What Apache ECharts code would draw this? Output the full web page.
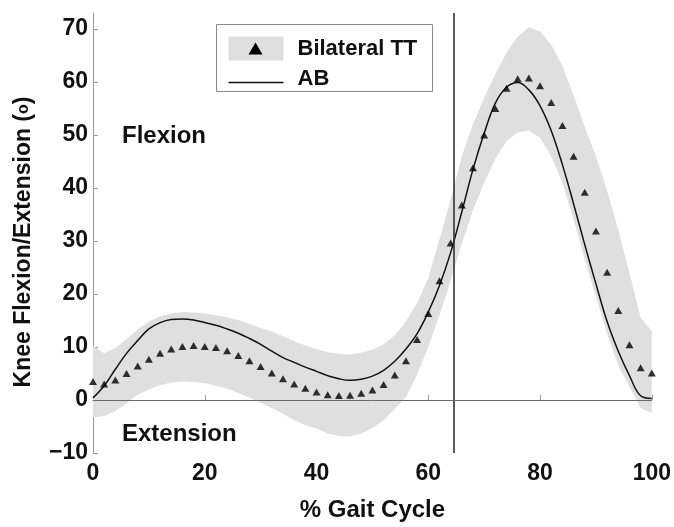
<!DOCTYPE html>
<html>
<head>
<meta charset="utf-8">
<script src="https://cdn.jsdelivr.net/npm/echarts@6/dist/echarts.min.js"></script>
<style>
  html, body { margin: 0; padding: 0; background: #fff; }
  #chart { width: 674px; height: 527px; }
</style>
</head>
<body>
<div id="chart"></div>
<script>
// % gait cycle, sampled every 2 %
const gaitX = [0, 2, 4, 6, 8, 10, 12, 14, 16, 18, 20, 22, 24, 26, 28, 30, 32, 34, 36, 38, 40,
  42, 44, 46, 48, 50, 52, 54, 56, 58, 60, 62, 64, 66, 68, 70, 72, 74, 76, 78, 80,
  82, 84, 86, 88, 90, 92, 94, 96, 98, 100]

// Bilateral TT (triangles)
const ttKnee = [3.5, 3.0, 3.75, 5.0, 6.4, 7.7, 8.8, 9.6, 10.1, 10.3, 10.1, 9.9, 9.3, 8.4, 7.4, 6.3, 5.1, 4.0, 3.0, 2.2, 1.5,
  1.0, 0.85, 0.9, 1.26, 1.9, 2.9, 4.7, 7.4, 11.4, 16.3, 22.5, 29.6, 36.8, 43.8, 50.0, 55.0, 58.8, 60.6, 60.75, 59.3,
  56.1, 51.8, 46.0, 39.2, 31.9, 24.1, 16.9, 10.4, 6.1, 5.1]

// AB mean (solid line)
const abMean = [0.4, 2.7, 5.8, 8.8, 11.2, 13.4, 14.6, 15.2, 15.3, 15.1, 14.6, 14.1, 13.4, 12.6, 11.6, 10.5, 9.2, 8.0, 7.1, 6.2, 5.4,
  4.6, 4.0, 3.7, 3.9, 4.5, 5.6, 7.3, 9.6, 12.5, 16.6, 21.6, 27.8, 35.5, 43.5, 50.3, 56.0, 59.0, 59.9, 58.5, 55.5,
  50.8, 44.4, 37.0, 29.3, 21.9, 14.8, 9.2, 4.6, 0.8, 0.3]

// AB +/- 1 SD band (grey)
const abUpper = [10.2, 8.8, 9.8, 11.5, 13.3, 14.8, 15.8, 16.3, 16.6, 16.5, 16.3, 16.0, 15.6, 15.1, 14.4, 13.6, 12.9, 12.0, 11.1, 10.3, 9.6,
  9.0, 8.7, 8.6, 8.9, 9.5, 10.5, 12.2, 14.8, 18.3, 23.0, 30.3, 37.8, 46.0, 52.0, 57.0, 61.5, 65.5, 68.5, 70.3, 69.5,
  67.0, 63.0, 57.5, 51.5, 46.0, 39.5, 32.0, 24.0, 15.5, 13.0]
const abLower = [-3.3, -3.0, -2.1, -0.6, 1.0, 2.0, 2.8, 3.3, 3.5, 3.4, 3.2, 2.7, 2.1, 1.3, 0.4, -0.5, -1.5, -2.6, -3.8, -4.7, -5.4,
  -6.3, -6.8, -6.9, -6.3, -5.3, -3.8, -1.7, 0.5, 4.8, 10.0, 16.0, 22.5, 29.5, 35.8, 41.0, 45.5, 48.8, 50.5, 50.8, 49.5,
  46.0, 41.0, 34.0, 26.5, 19.5, 12.5, 6.5, 2.5, -1.5, -2.5]

const toeOffX = 64.6
const xTicks = [0, 20, 40, 60, 80, 100]
const yTicks = [-10, 0, 10, 20, 30, 40, 50, 60, 70]

const font = "'Liberation Sans', Arial, sans-serif"
const bandColor = '#dfdfdf'
const axisColor = '#9a9a9a'

const ttData = gaitX.map((x, i) => [x, ttKnee[i]])
const abData = gaitX.map((x, i) => [x, abMean[i]])
const bandData = gaitX.map((x, i) => [x, abLower[i], abUpper[i]])

const chart = echarts.init(document.getElementById('chart'))

const option = {
  animation: false,
  grid: { left: 93, right: 21, top: 13, bottom: 71 },
  xAxis: {
    type: 'value',
    min: 0,
    max: 100,
    interval: 20,
    name: '% Gait Cycle',
    nameLocation: 'middle',
    nameGap: 45,
    nameTextStyle: { fontFamily: font, fontWeight: 'bold', fontSize: 24, color: '#111' },
    splitLine: { show: false },
    axisLine: { show: true, lineStyle: { color: axisColor, width: 1 } },
    axisTick: { show: true, inside: true, length: 5, lineStyle: { color: axisColor }, customValues: xTicks },
    axisLabel: { fontFamily: font, fontWeight: 'bold', fontSize: 23, color: '#111', margin: 9, customValues: xTicks }
  },
  yAxis: {
    type: 'value',
    min: -10,
    max: 73,
    interval: 10,
    name: 'Knee Flexion/Extension ({s|o})',
    nameLocation: 'middle',
    nameGap: 58,
    nameTextStyle: {
      fontFamily: font, fontWeight: 'bold', fontSize: 23, color: '#111',
      padding: [0, 18, 0, 0],
      rich: { s: { fontFamily: font, fontWeight: 'bold', fontSize: 16, color: '#111' } }
    },
    splitLine: { show: false },
    axisLine: { show: true, onZero: false, lineStyle: { color: axisColor, width: 1 } },
    axisTick: { show: true, inside: true, length: 5, lineStyle: { color: axisColor }, customValues: yTicks },
    axisLabel: {
      fontFamily: font, fontWeight: 'bold', fontSize: 23, color: '#111', margin: 5,
      customValues: yTicks,
      formatter: (v) => String(v).replace('-', '\u2212')
    }
  },
  series: [
    {
      // grey SD band
      type: 'custom',
      name: 'AB SD',
      data: bandData,
      encode: { x: 0, y: [1, 2] },
      silent: true,
      z: 1,
      renderItem: function(params, api) {
        if (params.dataIndex !== 0) return null
        const top = gaitX.map((x, i) => api.coord([x, abUpper[i]]))
        const bottom = gaitX.map((x, i) => api.coord([x, abLower[i]])).reverse()
        return {
          type: 'polygon',
          shape: { points: top.concat(bottom) },
          style: { fill: bandColor }
        }
      }
    },
    {
      type: 'line',
      name: 'AB',
      data: abData,
      smooth: 0.4,
      symbol: 'none',
      z: 3,
      lineStyle: { color: '#111', width: 1.5 },
      markLine: {
        silent: true,
        symbol: 'none',
        label: { show: false },
        data: [
          { xAxis: toeOffX, lineStyle: { color: '#333', width: 1.6, type: 'solid' } },
          { yAxis: 0, lineStyle: { color: '#6a6a6a', width: 1, type: 'solid' } }
        ]
      }
    },
    {
      type: 'scatter',
      name: 'Bilateral TT',
      data: ttData,
      symbol: 'triangle',
      symbolSize: [8, 7],
      z: 4,
      itemStyle: { color: '#000' }
    }
  ],
  graphic: [
    {
      type: 'text',
      left: 122,
      top: 124,
      style: { text: 'Flexion', fontFamily: font, fontWeight: 'bold', fontSize: 24, fill: '#111' }
    },
    {
      type: 'text',
      left: 122,
      top: 422,
      style: { text: 'Extension', fontFamily: font, fontWeight: 'bold', fontSize: 24, fill: '#111' }
    },
    // legend box
    {
      type: 'group',
      left: 216,
      top: 24,
      children: [
        { type: 'rect', shape: { x: 0, y: 0, width: 216, height: 67 }, style: { fill: '#fff', stroke: '#8a8a8a', lineWidth: 1 } },
        { type: 'rect', shape: { x: 12, y: 12, width: 55, height: 24 }, style: { fill: bandColor } },
        { type: 'polygon', shape: { points: [[39, 18], [32, 30], [46, 30]] }, style: { fill: '#000' } },
        { type: 'line', shape: { x1: 12, y1: 58, x2: 67, y2: 58 }, style: { stroke: '#111', lineWidth: 1.5 } },
        { type: 'text', x: 81, y: 13, style: { text: 'Bilateral TT', fontFamily: font, fontWeight: 'bold', fontSize: 22, fill: '#111' } },
        { type: 'text', x: 81, y: 43, style: { text: 'AB', fontFamily: font, fontWeight: 'bold', fontSize: 22, fill: '#111' } }
      ]
    }
  ]
}

chart.setOption(option)
</script>
</body>
</html>
